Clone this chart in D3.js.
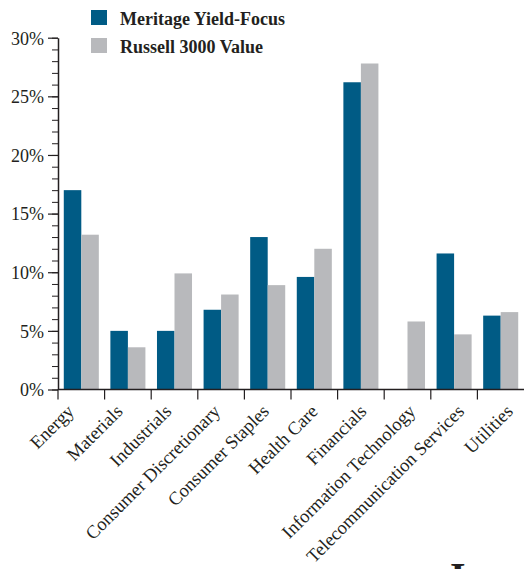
<!DOCTYPE html>
<html>
<head>
<meta charset="utf-8">
<script src="https://cdn.jsdelivr.net/npm/d3@7"></script>
<style>
  body { margin: 0; background: #fff; }
  svg text { font-family: "Liberation Serif", "DejaVu Serif", serif; fill: #231f20; }
</style>
</head>
<body>
<svg id="chart" width="527" height="569"></svg>
<script>
// sector weights (%)
const categories = ["Energy", "Materials", "Industrials", "Consumer Discretionary", "Consumer Staples",
  "Health Care", "Financials", "Information Technology", "Telecommunication Services", "Utilities"];
const seriesNames = ["Meritage Yield-Focus", "Russell 3000 Value"];
const meritage = [17.0, 5.0, 5.0, 6.8, 13.0, 9.6, 26.2, 0, 11.6, 6.3];
const russell = [13.2, 3.6, 9.9, 8.1, 8.9, 12.0, 27.8, 5.8, 4.7, 6.6];
const colors = ["#005b85", "#b8b9bc"];
const majorTicks = [0, 5, 10, 15, 20, 25, 30];

const svg = d3.select("#chart");
const mLeft = 58, mRight = 524, mTop = 37.7, mBottom = 389.5;

const x0 = d3.scaleBand().domain(categories).range([mLeft, mRight]).paddingInner(0);
const x1 = d3.scaleBand().domain(seriesNames).range([0, x0.bandwidth()]).paddingOuter(0.33);
const y = d3.scaleLinear().domain([0, 30]).range([mBottom, mTop]);
const color = d3.scaleOrdinal().domain(seriesNames).range(colors);
// the category labels were set a little wider apart than the bars
const xLabel = d3.scalePoint().domain(categories).range([75, 514]);

const rows = categories.map((c, i) => ({ cat: c, vals: [meritage[i], russell[i]] }));

// bars
const groups = svg.append("g").selectAll("g")
  .data(rows)
  .join("g")
  .attr("transform", d => `translate(${x0(d.cat)},0)`);

groups.selectAll("rect")
  .data(d => d.vals.map((v, i) => ({ key: seriesNames[i], v })))
  .join("rect")
  .attr("x", d => x1(d.key))
  .attr("width", x1.bandwidth())
  .attr("y", d => y(d.v))
  .attr("height", d => y(0) - y(d.v))
  .attr("fill", d => color(d.key));

// y axis: minor ticks every 1%, labelled majors every 5%
const yMinor = svg.append("g")
  .attr("transform", `translate(${mLeft},0)`)
  .call(d3.axisLeft(y).tickValues(d3.range(0, 31)).tickSize(6).tickFormat(""));
yMinor.select(".domain").remove();
yMinor.selectAll("line").attr("stroke", "#231f20").attr("stroke-width", 1);

const yMajor = svg.append("g")
  .attr("transform", `translate(${mLeft},0)`)
  .call(d3.axisLeft(y).tickValues(majorTicks).tickSize(10).tickSizeOuter(0).tickPadding(4)
    .tickFormat(d => d + "%"));
yMajor.select(".domain").attr("stroke", "#231f20").attr("stroke-width", 1.5);
yMajor.selectAll("line").attr("stroke", "#231f20").attr("stroke-width", 1.2);
yMajor.selectAll("text").style("font-size", "18px").attr("dy", "0.35em");

// x axis line + category boundary ticks
svg.append("line")
  .attr("x1", mLeft).attr("x2", mRight)
  .attr("y1", y(0)).attr("y2", y(0))
  .attr("stroke", "#231f20").attr("stroke-width", 1.6);

svg.append("g").selectAll("line")
  .data(categories)
  .join("line")
  .attr("x1", d => x0(d)).attr("x2", d => x0(d))
  .attr("y1", y(0)).attr("y2", y(0) + 10)
  .attr("stroke", "#231f20").attr("stroke-width", 1.2);

// rotated category labels
svg.append("g").selectAll("text")
  .data(categories)
  .join("text")
  .attr("text-anchor", "end")
  .attr("transform", d => `translate(${xLabel(d)},${y(0) + 23}) rotate(-45)`)
  .style("font-size", "18.5px")
  .text(d => d);

// legend
const legend = svg.append("g").selectAll("g")
  .data(seriesNames)
  .join("g")
  .attr("transform", (d, i) => `translate(91,${10 + i * 28})`);
legend.append("rect")
  .attr("width", 16).attr("height", 15)
  .attr("fill", d => color(d));
legend.append("text")
  .attr("x", 29).attr("y", 14.5)
  .style("font-size", "18px")
  .style("font-weight", "bold")
  .text(d => d);

// cut-off heading letter at bottom edge
svg.append("text")
  .attr("x", 450).attr("y", 590)
  .style("font-size", "40px")
  .style("font-weight", "bold")
  .text("I");
</script>
</body>
</html>
